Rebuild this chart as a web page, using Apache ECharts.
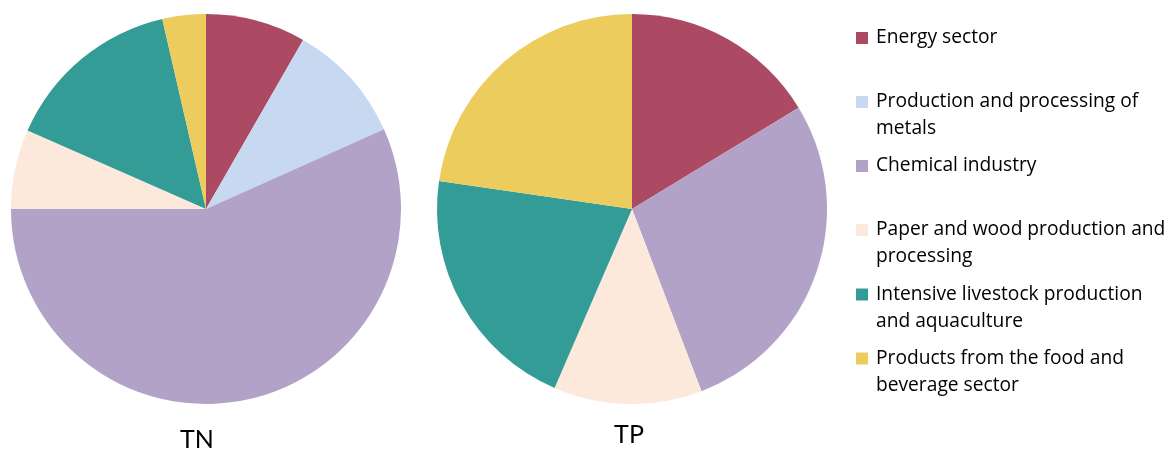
<!DOCTYPE html>
<html>
<head>
<meta charset="utf-8">
<script src="https://cdn.jsdelivr.net/npm/echarts@6/dist/echarts.min.js"></script>
<style>
html,body{margin:0;padding:0;background:#fff;}
#chart{width:1169px;height:452px;}
</style>
</head>
<body>
<div id="chart"></div>
<script>
const categories = [
  'Energy sector',
  'Production and processing of metals',
  'Chemical industry',
  'Paper and wood production and processing',
  'Intensive livestock production and aquaculture',
  'Products from the food and beverage sector'
];
const legendLabels = [
  'Energy sector',
  'Production and processing of\nmetals',
  'Chemical industry',
  'Paper and wood production and\nprocessing',
  'Intensive livestock production\nand aquaculture',
  'Products from the food and\nbeverage sector'
];
const tnValues = [8.3, 10.0, 56.7, 6.6, 14.8, 3.6];
const tpValues = [16.3, 0, 27.9, 12.3, 20.8, 22.7];
const pieTitles = ['TN', 'TP'];

const colors = ['#AB4A62', '#C6D9F0', '#B2A2C7', '#FCE9DB', '#339C97', '#EBCC5C'];
const FONT = 'Open Sans';
const TITLE_FONT = 'Lato';
const LH = 27;
const legendIconCenters = [37, 101, 165, 229, 293.5, 357.5];

const legends = categories.map((name, i) => {
  const twoLine = legendLabels[i].indexOf('\n') >= 0;
  const half = twoLine ? LH * 1.5 : LH / 2;
  return {
    orient: 'vertical',
    left: 856,
    top: legendIconCenters[i] - half + 1,
    padding: 0,
    itemWidth: 12,
    itemHeight: 12,
    icon: 'rect',
    selectedMode: false,
    data: [name],
    formatter: () => (twoLine ? '\n' : '') + legendLabels[i],
    textStyle: { fontFamily: FONT, fontSize: 19.2, color: '#000', lineHeight: LH, padding: [0, 0, 0, 3] }
  };
});

function pieData(values) {
  return categories.map((name, i) => ({ name: name, value: values[i], itemStyle: { color: colors[i] } }));
}

const chart = echarts.init(document.getElementById('chart'), null, { renderer: 'canvas' });
chart.setOption({
  animation: false,
  backgroundColor: '#fff',
  title: [
    { text: pieTitles[0], left: 197, top: 427, textAlign: 'center', padding: 0,
      textStyle: { fontFamily: TITLE_FONT, fontSize: 25, fontWeight: 'normal', color: '#000' } },
    { text: pieTitles[1], left: 629, top: 422, textAlign: 'center', padding: 0,
      textStyle: { fontFamily: TITLE_FONT, fontSize: 25, fontWeight: 'normal', color: '#000' } }
  ],
  legend: legends,
  series: [
    {
      type: 'pie', center: [206, 209], radius: 195, startAngle: 90, clockwise: true,
      label: { show: false }, labelLine: { show: false }, silent: true,
      itemStyle: { borderWidth: 0 },
      data: pieData(tnValues)
    },
    {
      type: 'pie', center: [632, 209], radius: 195, startAngle: 90, clockwise: true,
      label: { show: false }, labelLine: { show: false }, silent: true,
      itemStyle: { borderWidth: 0 },
      data: pieData(tpValues)
    }
  ]
});
</script>
</body>
</html>
